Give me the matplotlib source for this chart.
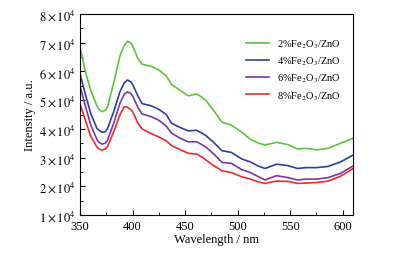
import numpy as np
import matplotlib.pyplot as plt
from matplotlib.ticker import MultipleLocator, FuncFormatter

# --- DATA (intensity in units of 1e4) ---
wavelength = [350, 355, 360, 366, 368, 371, 374, 376, 382, 388, 392, 395, 398, 400, 405,
              409, 418, 425, 432, 437, 445, 453, 461, 466, 470, 478, 485, 494, 504, 512,
              520, 526, 537, 548, 557, 565, 575, 586, 598, 610]
fe2 = [6.85, 6.0, 5.35, 4.8, 4.68, 4.6, 4.65, 4.75, 5.6, 6.55, 6.9, 7.05, 7.0, 6.9, 6.45,
       6.25, 6.18, 6.05, 5.85, 5.55, 5.35, 5.15, 5.22, 5.1, 4.98, 4.6, 4.23, 4.13, 3.88, 3.64,
       3.5, 3.44, 3.53, 3.45, 3.30, 3.32, 3.27, 3.32, 3.5, 3.67]
fe4 = [5.91, 5.2, 4.55, 4.02, 3.95, 3.88, 3.9, 4.0, 4.6, 5.3, 5.6, 5.70, 5.65, 5.55, 5.15,
       4.88, 4.80, 4.68, 4.50, 4.2, 4.05, 3.93, 3.95, 3.85, 3.76, 3.5, 3.24, 3.18, 2.95, 2.85,
       2.7, 2.62, 2.77, 2.72, 2.62, 2.65, 2.65, 2.69, 2.85, 3.09]
fe6 = [5.48, 4.8, 4.15, 3.63, 3.53, 3.47, 3.5, 3.6, 4.2, 4.9, 5.2, 5.29, 5.24, 5.15, 4.75,
       4.52, 4.42, 4.3, 4.10, 3.85, 3.68, 3.55, 3.55, 3.45, 3.36, 3.1, 2.83, 2.80, 2.58, 2.48,
       2.33, 2.22, 2.37, 2.30, 2.22, 2.25, 2.25, 2.30, 2.45, 2.71]
fe8 = [4.86, 4.3, 3.75, 3.37, 3.3, 3.26, 3.3, 3.38, 3.9, 4.5, 4.77, 4.76, 4.68, 4.6, 4.2,
       4.0, 3.83, 3.72, 3.58, 3.42, 3.28, 3.15, 3.12, 3.02, 2.91, 2.7, 2.54, 2.48, 2.33, 2.25,
       2.15, 2.10, 2.18, 2.17, 2.10, 2.11, 2.13, 2.18, 2.35, 2.62]
labels = [r"2%Fe$_2$O$_3$/ZnO", r"4%Fe$_2$O$_3$/ZnO",
          r"6%Fe$_2$O$_3$/ZnO", r"8%Fe$_2$O$_3$/ZnO"]
colors = ["#5cc43a", "#2f3f9c", "#7b36a6", "#ee2a2a"]

plt.rcParams["font.family"] = ["Liberation Serif", "DejaVu Serif"]
plt.rcParams["mathtext.fontset"] = "stix"

fig = plt.figure(figsize=(4.15, 2.55), dpi=100)
ax = fig.add_axes([0.193, 0.153, 0.658, 0.788])

x = np.array(wavelength)
for ys, lab, c in zip([fe2, fe4, fe6, fe8], labels, colors):
    ax.plot(x, np.array(ys) * 1e4, color=c, lw=1.2, label=lab)

ax.set_xlim(350, 610)
ax.set_ylim(1e4, 8e4)
ax.xaxis.set_major_locator(MultipleLocator(50))
ax.xaxis.set_minor_locator(MultipleLocator(25))
ax.yaxis.set_major_locator(MultipleLocator(1e4))
ax.yaxis.set_minor_locator(MultipleLocator(5e3))
ax.yaxis.set_major_formatter(FuncFormatter(lambda v, p: r"$%d\times10^{4}$" % round(v / 1e4)))
ax.tick_params(which="both", direction="in", labelsize=9, top=False, right=False)
ax.tick_params(which="major", length=3.5)
ax.tick_params(which="minor", length=2)

ax.set_xlabel("Wavelength / nm", fontsize=9, labelpad=1)
ax.set_ylabel("Intensity / a.u.", fontsize=9, labelpad=2)

ax.legend(loc="upper right", bbox_to_anchor=(0.99, 0.93), frameon=False, fontsize=7.5,
          handlelength=2.2, labelspacing=0.45)

fig.savefig("out.png", dpi=100)
